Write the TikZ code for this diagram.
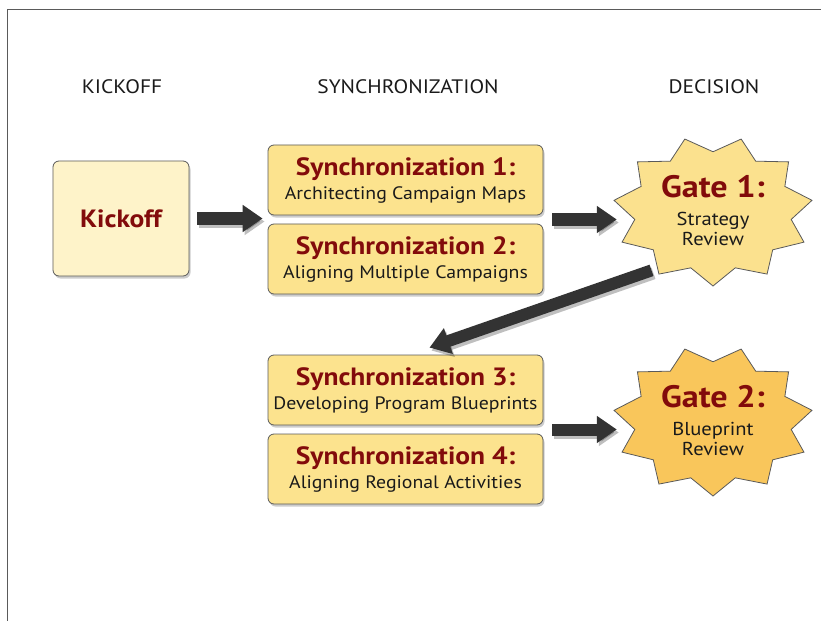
\documentclass[tikz,border=0pt]{standalone}
\usepackage{fontspec}
\setmainfont{PT Sans}[FakeStretch=1.1]
\usetikzlibrary{arrows.meta,calc,shadows,shapes.geometric,backgrounds}

\definecolor{kickfill}{HTML}{FEF3C9}
\definecolor{syncfill}{HTML}{FCE38E}
\definecolor{gatelight}{HTML}{FBE18E}
\definecolor{gatedark}{HTML}{F9C65B}
\definecolor{boxline}{HTML}{5A5A5A}
\definecolor{arrowgray}{HTML}{333333}
\definecolor{titlered}{HTML}{820B0B}
\definecolor{textdark}{HTML}{1A1A1A}

\newcommand\synctitle[1]{{\fontsize{25bp}{24bp}\selectfont\bfseries\color{titlered}#1}}
\newcommand\gatetitle[1]{{\fontsize{31bp}{30bp}\selectfont\bfseries\color{titlered}#1}}

\tikzset{
  header/.style={font=\fontsize{19.5bp}{22bp}\selectfont, text=textdark},
  box/.style={draw=boxline, line width=0.8bp, rounded corners=6bp,
    drop shadow={shadow xshift=1.5bp, shadow yshift=-2.5bp, opacity=.4}},
  kickbox/.style={box, fill=kickfill, minimum width=136bp, minimum height=115bp,
    font=\fontsize{25bp}{30bp}\selectfont\bfseries, text=titlered},
  syncbox/.style={box, fill=syncfill, minimum width=275bp, minimum height=70bp,
    align=center, font=\fontsize{18bp}{24bp}\selectfont, text=textdark},
  gatebox/.style={ellipse, minimum width=200bp, minimum height=150bp, inner sep=0pt,
    align=center, font=\fontsize{18.7bp}{20bp}\selectfont, text=textdark},
  bigarrow/.style={draw=arrowgray, line width=12bp, -{Triangle[width=26bp,length=20bp]}},
  arrowshadow/.style={bigarrow, draw=black, opacity=.25,
    transform canvas={shift={(2bp,-3bp)}}},
}

\begin{document}
\begin{tikzpicture}[x=1bp,y=-1bp]
  \useasboundingbox (0,0) rectangle (821,621);
  \draw[boxline, line width=0.8bp] (7,621) |- (821,9);

  \node[header] (hkick) at (122,87) {KICKOFF};
  \node[header] (hsync) at (408,87) {SYNCHRONIZATION};
  \node[header] (hdec) at (714,87) {DECISION};

  \node[kickbox] (kick) at (121,218.5) {Kickoff};
  \node[syncbox] (sync1) at (405.5,180) {\synctitle{Synchronization 1:}\\Architecting Campaign Maps};
  \node[syncbox] (sync2) at (405.5,259) {\synctitle{Synchronization 2:}\\Aligning Multiple Campaigns};
  \node[syncbox] (sync3) at (405.5,390) {\synctitle{Synchronization 3:}\\Developing Program Blueprints};
  \node[syncbox] (sync4) at (405.5,469) {\synctitle{Synchronization 4:}\\Aligning Regional Activities};

  \node[gatebox] (g1) at (713,211) {\gatetitle{Gate 1:}\\[8bp]Strategy\\Review};
  \node[gatebox] (g2) at (713,421) {\gatetitle{Gate 2:}\\[8bp]Blueprint\\Review};

  % stars behind the gate texts
  \begin{scope}[on background layer]
    \foreach \g/\c in {g1/gatelight, g2/gatedark}
      \draw[draw=boxline, line width=0.8bp, fill=\c, shift={(\g.center)}]
        plot[variable=\k, samples at={0,...,21}]
        ({(1-0.21*mod(\k,2))*100*cos(90+\k*360/22)}, {(1-0.21*mod(\k,2))*75*sin(90+\k*360/22)}) -- cycle;
  \end{scope}

  \coordinate (syncA) at ($(sync1.south east)!.5!(sync2.north east)$);
  \coordinate (syncB) at ($(sync3.south east)!.5!(sync4.north east)$);

  \foreach \s in {arrowshadow, bigarrow} {
    \draw[\s, shorten <=8bp, shorten >=5bp] (kick.east) -- (kick.east -| sync1.west);
    \draw[\s, shorten <=9bp, shorten >=-4bp] (syncA) -- (syncA -| g1.west);
    \draw[\s] (g1.224) -- ([xshift=24bp,yshift=7bp]sync3.north);
    \draw[\s, shorten <=9bp, shorten >=-4bp] (syncB) -- (syncB -| g2.west);
  }
\end{tikzpicture}
\end{document}
